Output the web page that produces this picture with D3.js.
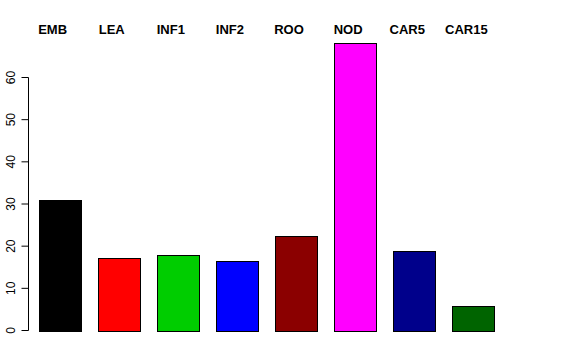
<!DOCTYPE html>
<html><head><meta charset="utf-8">
<script src="https://cdn.jsdelivr.net/npm/d3@7/dist/d3.min.js"></script>
<style>body{margin:0;background:#fff}</style>
</head><body>
<script>
const categories = ["EMB","LEA","INF1","INF2","ROO","NOD","CAR5","CAR15"];
const values = [31.0, 17.1, 17.8, 16.6, 22.4, 68.2, 18.8, 5.8];
const colors = ["#000000","#ff0000","#00cd00","#0000ff","#8b0000","#ff00ff","#00008b","#006400"];
const yTicks = [0,10,20,30,40,50,60];

const W = 576, H = 360;
const svg = d3.select("body").append("svg").attr("width", W).attr("height", H)
  .style("font-family","Liberation Sans, Arial, sans-serif");

const x = d3.scaleBand().domain(categories).range([38.5, 494.5]).paddingInner(0.4/1.4).paddingOuter(0);
const y = d3.scaleLinear().domain([0, 60]).range([330.5, 77.5]);

svg.selectAll("rect.bar").data(categories).enter().append("rect")
  .attr("x", d => Math.round(x(d)) + 0.5)
  .attr("width", Math.round(x.bandwidth()))
  .attr("y", (d,i) => Math.round(y(values[i])) + 0.5)
  .attr("height", (d,i) => Math.round(y(0)) - Math.round(y(values[i])))
  .attr("fill", (d,i) => colors[i])
  .attr("stroke", "#000").attr("stroke-width", 1);

const axis = d3.axisLeft(y).tickValues(yTicks).tickSize(7).tickPadding(3);
const g = svg.append("g").attr("transform","translate(28.5,0)").call(axis);
g.select(".domain").attr("d", `M0,${y(0)}V${y(60)}`).attr("stroke","#000");
g.selectAll(".tick").attr("transform", null);
g.selectAll(".tick line").attr("stroke","#000").attr("transform", d => `translate(0,${y(d)})`);
g.selectAll(".tick text")
  .attr("transform", d => `translate(-18,${y(d)}) rotate(-90)`)
  .attr("x", 0).attr("y", 0).attr("dy", "0.35em")
  .attr("text-anchor","middle").attr("font-size", 12).attr("fill","#000")
  .style("font-family","Liberation Sans, Arial, sans-serif");

svg.selectAll("text.lab").data(categories).enter().append("text")
  .attr("x", d => x(d) + x.bandwidth()/2 - 7)
  .attr("y", 33.5)
  .attr("text-anchor","middle")
  .attr("font-weight","bold").attr("font-size", 13)
  .text(d => d);
</script>
</body></html>
